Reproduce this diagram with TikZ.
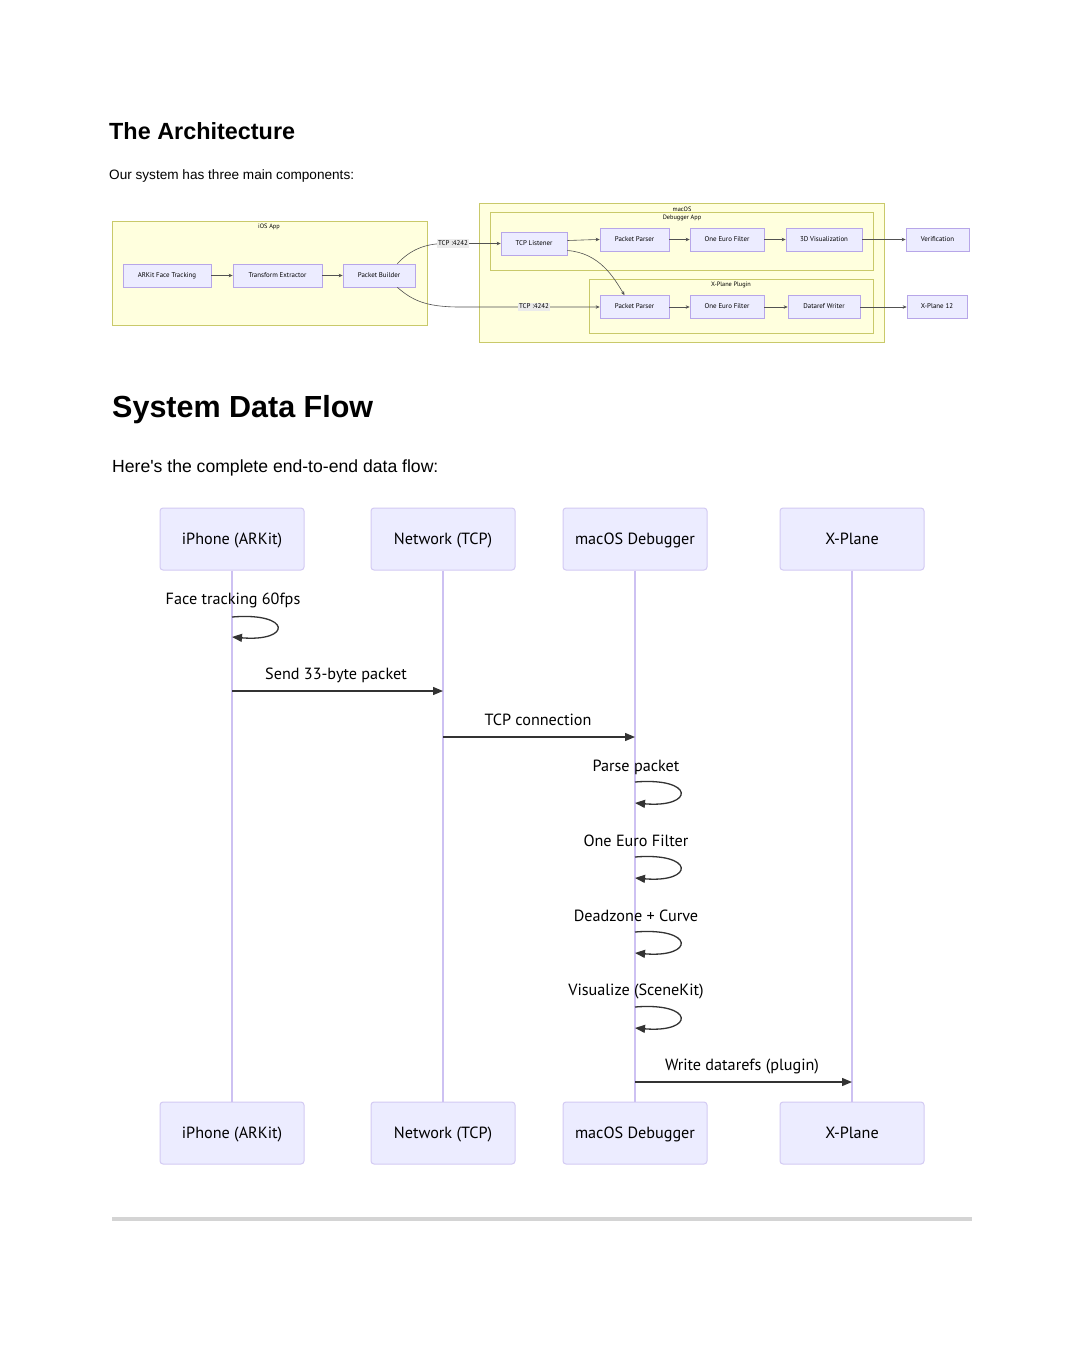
\documentclass[tikz,border=0pt]{standalone}
\usepackage{fontspec}
\setmainfont{Liberation Sans}
\newfontfamily\seqfont{PT Sans}
\usetikzlibrary{arrows.meta,calc}
\definecolor{subfill}{HTML}{FFFFDE}
\definecolor{substroke}{HTML}{C9C96A}
\definecolor{nodefill}{HTML}{ECECFF}
\definecolor{nodestroke}{HTML}{B7A6E8}
\definecolor{actstroke}{HTML}{D3CAF3}
\definecolor{lifecol}{HTML}{CDC1F2}
\definecolor{ink}{HTML}{333333}
\definecolor{rulecol}{HTML}{D4D4D4}
\definecolor{lblbg}{HTML}{EBEBEB}
\tikzset{
  subbox/.style={draw=substroke,fill=subfill,line width=0.7pt},
  sublabel/.style={font=\seqfont\fontsize{6.3}{7}\selectfont,inner sep=0pt,text=black},
  archnode/.style={draw=nodestroke,fill=nodefill,line width=0.7pt,minimum height=23pt,inner sep=0pt,text height=5pt,text depth=1.5pt,font=\seqfont\fontsize{6.9}{8}\selectfont},
  arr/.style={draw=ink!85,line width=0.6pt,-{Stealth[length=4pt,width=3.5pt]}},
  elabel/.style={fill=lblbg,inner sep=0.8pt,text height=5pt,text depth=1.5pt,font=\seqfont\fontsize{6.9}{8}\selectfont},
  actor/.style={draw=actstroke,fill=nodefill,line width=1pt,rounded corners=3pt,minimum width=144pt,minimum height=62pt,inner sep=0pt,text height=11.5pt,text depth=0.5pt,font=\seqfont\fontsize{16.2}{19}\selectfont},
  life/.style={draw=lifecol,line width=1.6pt},
  msg/.style={draw=ink,line width=1.3pt,-{Triangle[length=10pt,width=8pt]}},
  msglabel/.style={font=\seqfont\fontsize{16.2}{19}\selectfont,inner sep=0pt,text height=11.5pt,text depth=0.5pt,text=black}
}
\begin{document}
\begin{tikzpicture}[x=1pt,y=-1pt]
\useasboundingbox[fill=white] (0,0) rectangle (1080,1350);
% headings
\node[anchor=west,font=\bfseries\fontsize{23.4}{28}\selectfont,inner sep=0pt] (h1) at (109,131) {The Architecture};
\node[anchor=west,font=\fontsize{13.6}{16}\selectfont,inner sep=0pt] (p1) at (109,176) {Our system has three main components:};
\node[anchor=west,font=\bfseries\fontsize{30.5}{35}\selectfont,inner sep=0pt] (h2) at (112,410) {System Data Flow};
\node[anchor=west,font=\fontsize{17.6}{21}\selectfont,inner sep=0pt] (p2) at (112,468) {Here\textquotesingle s the complete end-to-end data flow:};

% ===== architecture =====
\draw[subbox] (112,221) rectangle (427,325);
\node[sublabel] (iosl) at (269,227) {iOS App};
\draw[subbox] (479,203) rectangle (884,342);
\node[sublabel] (macl) at (682,209) {macOS};
\draw[subbox] (490,212) rectangle (873,270);
\node[sublabel] (dbgl) at (682,218) {Debugger App};
\draw[subbox] (589,279) rectangle (873,333);
\node[sublabel] (xpl) at (731,285) {X-Plane Plugin};

\node[archnode,minimum width=88pt] (ark) at (167,275.5) {ARKit Face Tracking};
\node[archnode,minimum width=89pt] (tex) at (277.5,275.5) {Transform Extractor};
\node[archnode,minimum width=72pt] (pb) at (379,275.5) {Packet Builder};
\node[archnode,minimum width=66pt] (tcpl) at (534,243.5) {TCP Listener};
\node[archnode,minimum width=69pt] (pp1) at (634.5,239.5) {Packet Parser};
\node[archnode,minimum width=74pt] (oef1) at (727,239.5) {One Euro Filter};
\node[archnode,minimum width=76pt] (viz) at (824,239.5) {3D Visualization};
\node[archnode,minimum width=63pt] (ver) at (937.5,239.5) {Verification};
\node[archnode,minimum width=69pt] (pp2) at (634.5,307) {Packet Parser};
\node[archnode,minimum width=74pt] (oef2) at (727,307) {One Euro Filter};
\node[archnode,minimum width=72pt] (drw) at (824,307) {Dataref Writer};
\node[archnode,minimum width=60pt] (xp12) at (937,307) {X-Plane 12};

\draw[arr] (ark) -- (tex);
\draw[arr] (tex) -- (pb);
\draw[arr] ([xshift=-18pt]pb.north east) .. controls (410,250) and (425,243.5) .. (445,243.5) -- (tcpl.west);
\node[elabel] (tl1) at (453,243.5) {TCP :4242};
\draw[arr] ([xshift=-18pt]pb.south east) .. controls (412,300) and (425,307) .. (460,307) -- (pp2.west);
\node[elabel] (tl2) at (534,307) {TCP :4242};
\draw[arr] ([yshift=3pt]tcpl.east) .. controls (583,239.5) .. (pp1.west);
\draw[arr] ([yshift=-7pt]tcpl.east) .. controls (600,253) and (614,278) .. ([xshift=-10pt]pp2.north);
\draw[arr] (pp1) -- (oef1);
\draw[arr] (oef1) -- (viz);
\draw[arr] (viz) -- (ver);
\draw[arr] (pp2) -- (oef2);
\draw[arr] (oef2) -- (drw);
\draw[arr] (drw) -- (xp12);

% ===== sequence diagram =====
\node[actor] (a1) at (232,539) {iPhone (ARKit)};
\node[actor] (a2) at (443,539) {Network (TCP)};
\node[actor] (a3) at (635,539) {macOS Debugger};
\node[actor] (a4) at (852,539) {X-Plane};
\node[actor] (b1) at (232,1133) {iPhone (ARKit)};
\node[actor] (b2) at (443,1133) {Network (TCP)};
\node[actor] (b3) at (635,1133) {macOS Debugger};
\node[actor] (b4) at (852,1133) {X-Plane};
\draw[life] (a1.south) -- (b1.north);
\draw[life] (a2.south) -- (b2.north);
\draw[life] (a3.south) -- (b3.north);
\draw[life] (a4.south) -- (b4.north);

\node[msglabel] (m1) at (233,599) {Face tracking 60fps};
\draw[msg] (a1.south |- 0,617) .. controls +(60,-5) and +(60,5) .. +(0,20);
\node[msglabel] (m2) at (336,674) {Send 33-byte packet};
\draw[msg] (a1.south |- 0,691) -- (a2.south |- 0,691);
\node[msglabel] (m3) at (538,720) {TCP connection};
\draw[msg] (a2.south |- 0,737) -- (a3.south |- 0,737);
\node[msglabel] (m4) at (636,766) {Parse packet};
\draw[msg] (a3.south |- 0,782) .. controls +(60,-5) and +(60,5) .. +(0,21);
\node[msglabel] (m5) at (636,841) {One Euro Filter};
\draw[msg] (a3.south |- 0,857) .. controls +(60,-5) and +(60,5) .. +(0,21);
\node[msglabel] (m6) at (636,916) {Deadzone + Curve};
\draw[msg] (a3.south |- 0,932) .. controls +(60,-5) and +(60,5) .. +(0,21);
\node[msglabel] (m7) at (636,990) {Visualize (SceneKit)};
\draw[msg] (a3.south |- 0,1007) .. controls +(60,-5) and +(60,5) .. +(0,21);
\node[msglabel] (m8) at (742,1065) {Write datarefs (plugin)};
\draw[msg] (a3.south |- 0,1082) -- (a4.south |- 0,1082);

% rule
\draw[rulecol,line width=4pt] (112,1219) coordinate (r1) -- (972,1219) coordinate (r2);
\end{tikzpicture}
\end{document}
